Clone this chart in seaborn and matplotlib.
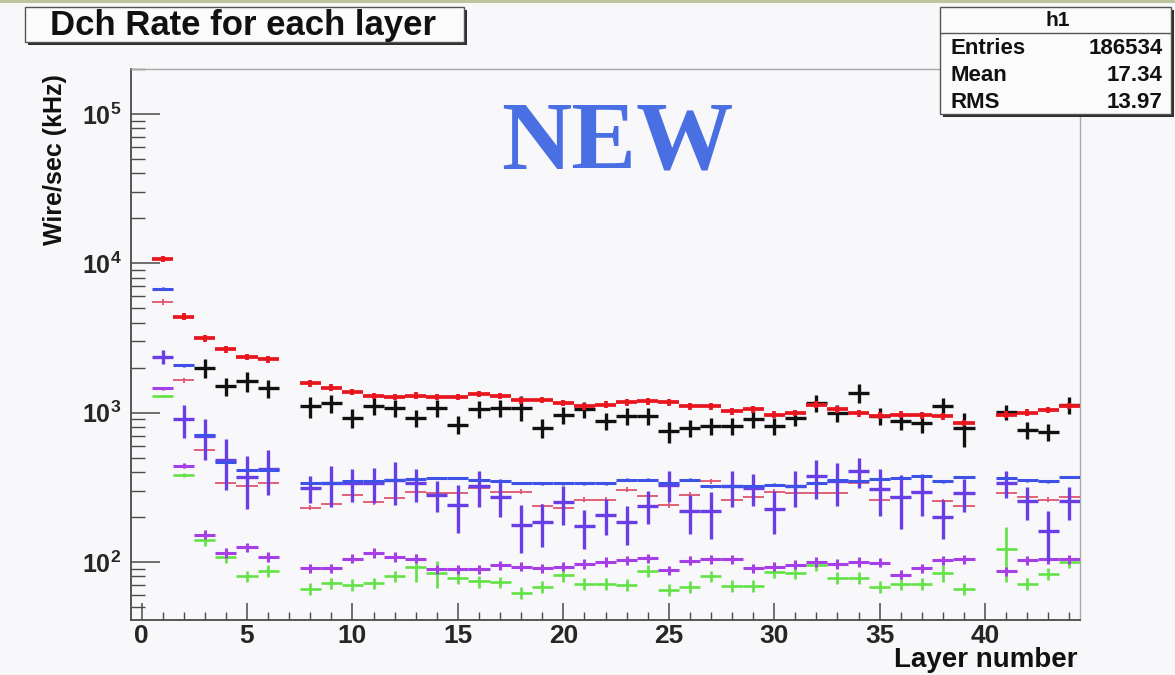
import numpy as np
import pandas as pd
import matplotlib
matplotlib.use("Agg")
import matplotlib.pyplot as plt
from matplotlib.patches import Rectangle
from matplotlib.lines import Line2D
from matplotlib.ticker import MultipleLocator, LogLocator, FuncFormatter, NullFormatter
import seaborn as sns

# ---------------------------------------------------------------- data
layers = [1, 2, 3, 4, 5, 6,
          8, 9, 10, 11, 12, 13, 14, 15, 16, 17,
          18, 19, 20, 21, 22, 23, 24, 25, 26, 27,
          28, 29, 30, 31, 32, 33, 34, 35, 36, 37, 38, 39,
          41, 42, 43, 44]

red_rate = [10700, 4390, 3140, 2650, 2350, 2270,
            1570, 1470, 1370, 1290, 1270, 1300, 1270, 1270, 1330, 1290,
            1210, 1220, 1160, 1100, 1130, 1170, 1190, 1170, 1100, 1100,
            1020, 1050, 970, 995, 1130, 1050, 990, 955, 970, 960, 945, 855,
            970, 1000, 1040, 1110]
red_err = 0.05

black_rate = [np.nan, np.nan, 2000, 1500, 1620, 1450,
              1100, 1150, 920, 1100, 1080, 920, 1080, 830, 1050, 1080,
              1080, 790, 970, 1050, 875, 945, 945, 750, 790, 810,
              810, 900, 810, 920, 1160, 1000, 1360, 945, 875, 850, 1100, 790,
              1010, 760, 740, 1120]
black_err = [0, 0, .15, .14, .15, .14,
             .16, .14, .14, .13, .13, .13, .13, .14, .13, .13,
             .19, .14, .13, .12, .13, .13, .13, .16, .13, .13,
             .13, .13, .13, .12, .13, .13, .15, .13, .13, .14, .13, .26,
             .12, .13, .13, .13]

blue_rate = [6760, 2070, 710, 470, 415, 415,
             340, 340, 346, 346, 355, 360, 365, 365, 355, 350,
             337, 335, 335, 335, 335, 355, 355, 337, 355, 320,
             320, 322, 329, 320, 337, 351, 350, 360, 365, 374, 346, 370,
             365, 351, 346, 370]
blue_err = 0.02

violet_rate = [2370, 900, 693, 484, 370, 420,
               312, 337, 337, 337, 355, 337, 282, 241, 320, 274,
               177, 184, 250, 173, 207, 184, 238, 329, 218, 218,
               320, 312, 226, 320, 374, 346, 403, 310, 274, 296, 201, 289,
               337, 254, 160, 254]
violet_err = [.11, .25, .31, .37, .39, .33,
              .21, .31, .25, .27, .32, .25, .23, .35, .27, .27,
              .35, .32, .29, .29, .27, .29, .25, .23, .29, .35,
              .27, .24, .32, .27, .29, .32, .23, .35, .39, .31, .29, .25,
              .20, .25, .37, .25]

pink_rate = [5500, 1640, 558, 337, 320, 337,
             231, 244, 279, 250, 267, 296, 289, 289, 312, 296,
             296, 235, 229, 261, 261, 304, 277, 239, 282, 346,
             261, 274, 296, 289, 289, 289, 337, 261, 274, 296, 254, 235,
             289, 274, 261, 274]
pink_err = 0.04

magenta_rate = [1450, 441, 152, 115, 125, 108,
                91, 91, 105, 115, 108, 105, 89, 89, 89, 95,
                93, 91, 93, 97, 100, 103, 106, 88, 102, 104,
                104, 91, 93, 96, 100, 97, 100, 99, 82, 91, 103, 104,
                87, 103, 104, 104]
magenta_err = [.02, .04, .07, .07, .07, .07,
               .07, .07, .07, .07, .07, .07, .07, .07, .07, .07,
               .07, .07, .07, .07, .07, .07, .07, .07, .07, .07,
               .07, .07, .07, .07, .07, .07, .07, .07, .07, .07, .07, .07,
               .07, .07, .07, .07]

green_rate = [1290, 384, 140, 108, 80, 87,
              66, 72, 70, 72, 80, 93, 84, 78, 74, 73,
              62, 68, 82, 71, 71, 70, 87, 65, 68, 80,
              69, 69, 86, 84, 95, 78, 78, 68, 71, 71, 84, 66,
              122, 71, 83, 100]
green_err = [.02, .03, .09, .09, .09, .09,
             .09, .09, .09, .09, .09, .21, .20, .09, .09, .09,
             .09, .09, .11, .09, .09, .09, .09, .09, .09, .09,
             .09, .09, .09, .09, .09, .09, .09, .09, .09, .09, .13, .09,
             .40, .09, .09, .09]

hist_name = "h1"
stat_labels = ["Entries", "Mean", "RMS"]
stat_values = ["186534", "17.34", "13.97"]

title_text = "Dch Rate for each layer"
stamp_text = "NEW"
x_label = "Layer number"
y_label = "Wire/sec (kHz)"

# ---------------------------------------------------------------- style
W, H = 1175, 675
BG = "#f8f7f9"
sns.set_theme(style="white")
plt.rcParams["font.family"] = ["Liberation Sans", "DejaVu Sans"]
plt.rcParams["font.weight"] = "bold"
plt.rcParams["mathtext.fontset"] = "custom"
plt.rcParams["mathtext.bf"] = "Liberation Sans:bold"
plt.rcParams["mathtext.rm"] = "Liberation Sans:bold"
plt.rcParams["mathtext.default"] = "bf"


def fx(px):
    return px / W


def fy(py):
    return 1 - py / H


frame = pd.DataFrame({"layer": layers})
series = [
    # name, values, relative error, colour, line width, z-order
    ("green", green_rate, green_err, "#63e246", 1.9, 2),
    ("magenta", magenta_rate, magenta_err, "#a63fe6", 2.2, 3),
    ("pink", pink_rate, pink_err, "#e0556e", 1.3, 4),
    ("violet", violet_rate, violet_err, "#6a3ee6", 2.4, 5),
    ("blue", blue_rate, blue_err, "#3f52e8", 2.2, 6),
    ("black", black_rate, black_err, "#111111", 2.4, 7),
    ("red", red_rate, red_err, "#e8161e", 2.7, 8),
]

fig = plt.figure(figsize=(W / 100, H / 100), dpi=100, facecolor=BG)
ax = fig.add_axes([fx(131), fy(620), (1080 - 131) / W, (620 - 69) / H])
ax.set_facecolor(BG)

for name, vals, rel, color, lw, z in series:
    frame[name] = np.asarray(vals, dtype=float)
    frame[name + "_err"] = np.asarray(rel, dtype=float) * frame[name]
    sub = frame.dropna(subset=[name])
    ax.errorbar(sub["layer"], sub[name], xerr=0.5, yerr=sub[name + "_err"],
                fmt="none", ecolor=color, elinewidth=lw, capsize=0, zorder=z)

ax.set_yscale("log")
ax.set_xlim(-0.5, 44.5)
ax.set_ylim(40.8, 2.0e5)

ax.xaxis.set_major_locator(MultipleLocator(5))
ax.xaxis.set_minor_locator(MultipleLocator(1))
ax.yaxis.set_major_locator(LogLocator(base=10))
ax.yaxis.set_minor_locator(LogLocator(base=10, subs=np.arange(2, 10)))
ax.yaxis.set_major_formatter(FuncFormatter(lambda v, p: r"$10^{%d}$" % int(round(np.log10(v)))))
ax.yaxis.set_minor_formatter(NullFormatter())

axis_col = "#4a4a4a"
ax.tick_params(axis="y", which="major", direction="in", length=21, width=1.1,
               color=axis_col, pad=7, labelsize=18, left=True, right=False)
ax.tick_params(axis="y", which="minor", direction="in", length=10, width=1.0,
               color=axis_col, left=True, right=False)
ax.tick_params(axis="x", which="major", direction="in", length=12, width=1.1,
               color=axis_col, pad=3, labelsize=19, bottom=True, top=False)
ax.tick_params(axis="x", which="minor", direction="in", length=6, width=1.0,
               color=axis_col, bottom=True, top=False)
for lab in ax.get_xticklabels():
    lab.set_fontweight("bold")

for side in ("left", "bottom"):
    ax.spines[side].set_color(axis_col)
    ax.spines[side].set_linewidth(1.3)
for side in ("top", "right"):
    ax.spines[side].set_color("#a8a8a8")
    ax.spines[side].set_linewidth(1.0)

# axis titles
fig.text(fx(1078), fy(660), x_label, ha="right", va="center", fontsize=20,
         fontweight="bold", color="#111111")
fig.text(fx(55), fy(160), y_label, ha="center", va="center", rotation=90,
         fontsize=18, fontweight="bold", color="#111111")

# big stamp inside the frame
fig.text(fx(617), fy(168), stamp_text, ha="center", va="baseline",
         family=["Liberation Serif", "DejaVu Serif"], fontweight="bold",
         fontsize=70, color="#4a6fe3")


def shadow_box(x0, y0, x1, y1, depth=3):
    fig.add_artist(Rectangle((fx(x0 + depth), fy(y1 + depth)), (x1 - x0) / W,
                             (y1 - y0) / H, transform=fig.transFigure,
                             facecolor="#2e2e2e", edgecolor="none", zorder=5))
    fig.add_artist(Rectangle((fx(x0), fy(y1)), (x1 - x0) / W, (y1 - y0) / H,
                             transform=fig.transFigure, facecolor="#fbfbfb",
                             edgecolor="#555555", linewidth=1.0, zorder=6))


# title box
shadow_box(25, 7, 464, 42)
fig.text(fx(50), fy(25), title_text, ha="left", va="center", fontsize=25,
         fontweight="bold", color="#111111", zorder=7)

# statistics box
shadow_box(940, 7, 1171, 114)
fig.add_artist(Line2D([fx(940), fx(1171)], [fy(33), fy(33)],
                      transform=fig.transFigure, color="#555555", lw=1.0, zorder=7))
fig.text(fx(1058), fy(20), hist_name, ha="center", va="center", fontsize=15,
         fontweight="bold", color="#111111", zorder=7)
for i, (lab, val) in enumerate(zip(stat_labels, stat_values)):
    yy = fy(48 + 27.5 * i)
    fig.text(fx(951), yy, lab, ha="left", va="center", fontsize=16,
             fontweight="bold", color="#111111", zorder=7)
    fig.text(fx(1163), yy, val, ha="right", va="center", fontsize=16,
             fontweight="bold", color="#111111", zorder=7)

# window edge along the top
fig.add_artist(Rectangle((0, fy(3)), 1, 3 / H, transform=fig.transFigure,
                         facecolor="#bcc69e", edgecolor="none", zorder=4))

fig.savefig("out.png", dpi=100, facecolor=BG)
